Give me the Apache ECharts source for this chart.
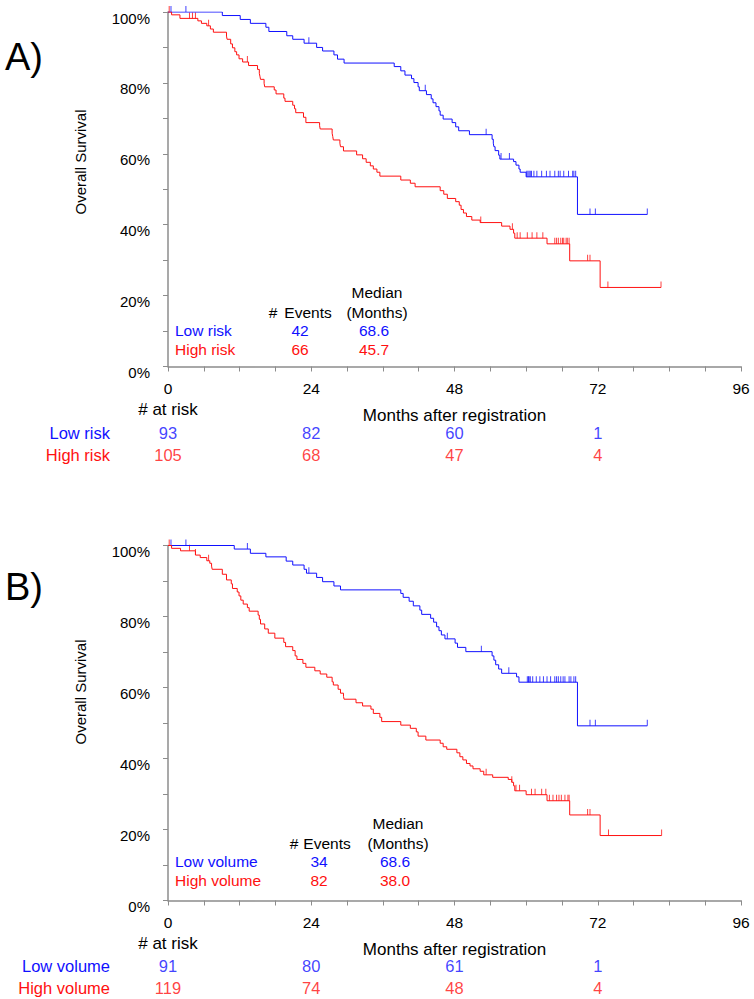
<!DOCTYPE html>
<html><head><meta charset="utf-8">
<script src="https://cdn.jsdelivr.net/npm/echarts@6/dist/echarts.min.js"></script>
<style>html,body{margin:0;padding:0;background:#fff}#c{width:754px;height:999px}</style>
</head><body><div id="c"></div>
<script>
// ---------- DATA ----------
const riskTimes = [0, 24, 48, 72];

// Panel A
const aGroups = ['Low risk', 'High risk'];
const aEvents = [42, 66];
const aMedians = ['68.6', '45.7'];
const aRiskLow = [93, 82, 60, 1];
const aRiskHigh = [105, 68, 47, 4];
const aLowT = [9.1,12.1,13.8,16.4,16.9,19.9,20.9,22.8,24.9,25.9,27.8,28.4,29.5,37.9,39.0,39.7,40.8,41.2,41.9,42.1,43.3,44.1,44.4,44.9,45.4,45.6,46.1,47.6,48.2,48.7,50.5,54.3,54.5,54.6,54.8,55.4,55.6,57.9,58.3,58.8,59.0,60.0,68.6];
const aLowS = [99.0,97.9,96.8,95.7,94.5,93.3,92.3,91.2,90.0,89.0,87.9,86.7,85.6,84.6,83.4,82.2,81.2,80.1,78.9,77.8,76.7,75.5,74.4,73.3,72.1,70.9,69.8,68.8,67.6,66.5,65.4,64.1,63.0,62.0,60.9,59.6,58.5,57.8,56.8,55.7,54.8,53.5,42.9];
const aLowEnd = 80.3;
const aLowCens = [0.5,3.0,23.6,43.1,53.3,55.8,57.2,60.1,60.3,60.5,60.7,60.9,61.3,61.8,62.6,63.4,64.0,64.8,65.4,65.7,66.3,67.1,67.8,68.0,68.3,70.7,71.6,80.3];
const aHighT = [0.6,2.0,5.0,5.6,6.5,7.1,7.6,9.8,9.9,10.5,10.8,11.2,11.5,11.9,12.5,13.5,15.0,15.3,15.4,15.5,16.1,16.2,17.8,18.1,19.4,19.6,20.9,21.2,21.4,22.7,23.1,25.4,25.5,27.5,27.6,27.7,28.8,28.9,29.4,31.6,32.6,33.2,33.9,34.4,35.0,35.5,39.0,40.6,41.4,45.6,46.2,46.8,48.2,48.8,49.1,49.5,50.0,50.9,52.3,55.9,57.3,57.9,58.1,63.5,67.3,72.4];
const aHighS = [99.2,98.2,97.5,96.8,96.1,95.2,94.3,93.2,92.3,91.0,89.9,88.8,87.9,86.8,85.9,84.9,83.8,82.7,81.9,81.0,79.9,78.9,78.0,76.9,75.7,74.8,73.7,72.7,71.6,70.3,68.8,67.9,67.0,65.8,64.9,63.9,63.0,62.0,60.8,59.7,58.6,57.6,56.6,55.7,54.8,53.7,52.6,51.7,50.7,49.6,48.6,47.4,46.5,45.5,44.3,43.3,42.3,41.3,40.6,39.6,38.7,37.6,36.2,34.6,29.8,22.3];
const aHighEnd = 82.6;
const aHighCens = [0.2,3.6,4.1,4.6,6.8,13.3,52.4,57.7,58.5,59.0,60.2,61.0,61.8,62.8,64.8,65.1,65.4,65.8,66.1,66.3,66.7,66.9,67.2,70.3,70.7,73.7,82.6];

// Panel B
const bGroups = ['Low volume', 'High volume'];
const bEvents = [34, 82];
const bMedians = ['68.6', '38.0'];
const bRiskLow = [91, 80, 61, 1];
const bRiskHigh = [119, 74, 48, 4];
const bLowT = [11.1,13.8,16.4,19.8,20.9,22.8,23.2,24.9,25.9,27.8,28.9,39.0,39.4,40.4,41.1,42.2,42.5,44.0,44.5,45.0,45.4,45.8,46.4,48.1,48.5,49.9,54.3,54.6,54.9,55.4,55.9,58.4,58.8,68.6];
const bLowS = [99.0,97.8,96.8,95.6,94.5,93.3,92.2,91.0,89.8,88.6,87.5,86.5,85.4,84.3,83.0,81.8,80.6,79.5,78.4,77.1,76.0,74.8,73.7,72.5,71.3,70.1,68.9,67.7,66.4,65.2,64.0,63.0,61.5,49.2];
const bLowEnd = 80.3;
const bLowCens = [0.5,3.0,13.3,23.6,46.8,52.5,57.1,60.2,60.4,60.5,60.7,61.1,61.7,62.3,62.9,63.5,64.1,64.8,65.1,65.4,65.8,66.2,66.5,67.2,67.5,68.0,68.3,70.7,71.6,80.3];
const bHighT = [0.6,2.1,4.6,5.4,6.5,7.0,7.3,7.4,9.1,9.8,10.6,10.8,11.6,11.9,12.2,12.6,13.3,13.6,15.1,15.3,15.5,16.2,16.8,17.9,19.4,19.7,20.9,21.3,21.6,22.6,23.1,24.6,25.5,26.6,27.5,27.7,28.5,28.9,29.4,29.5,31.5,32.6,34.0,34.4,35.5,35.8,39.0,40.6,41.6,41.9,43.2,45.6,46.1,46.7,48.4,48.9,49.4,50.0,50.6,51.1,52.3,52.9,54.4,57.0,57.6,57.9,58.1,60.0,63.5,67.3,72.4];
const bHighS = [99.2,98.5,97.3,96.6,95.7,95.0,94.2,93.3,91.9,90.3,89.2,87.9,86.9,85.8,84.6,83.5,82.5,81.5,80.4,79.2,77.9,76.5,75.3,73.9,72.7,71.5,70.4,68.9,67.9,66.8,65.7,64.7,63.8,62.9,61.6,60.7,59.5,58.4,57.5,56.7,55.7,54.8,53.9,52.7,51.6,50.4,49.4,48.5,47.5,46.3,45.2,44.3,43.3,42.6,41.6,40.5,39.6,38.6,37.9,37.1,36.4,35.4,34.7,34.1,33.3,32.3,30.9,29.8,28.1,24.1,18.3];
const bHighEnd = 82.7;
const bHighCens = [0.2,3.6,4.6,6.8,53.3,57.6,58.3,58.9,60.9,61.5,62.6,63.3,63.9,64.5,65.1,65.5,65.9,66.5,67.0,67.2,70.3,70.7,73.8,82.7];

// ---------- BUILD ----------
const BLUE = '#1010ff', RED = '#ff1010';
const FONT = '"Liberation Sans", Arial, Helvetica, sans-serif';

function kmData(T, S, end) {
  const d = [[0, 100]];
  T.forEach((t, i) => d.push([t, S[i]]));
  d.push([end, S[S.length - 1]]);
  return d;
}
function survAt(T, S, t) {
  let s = 100;
  for (let i = 0; i < T.length; i++) { if (T[i] <= t) s = S[i]; }
  return s;
}
function censData(T, S, C) { return C.map(t => [t, survAt(T, S, t)]); }

const axisGray = '#8c8c8c';
function mainX(gi) {
  return {
    gridIndex: gi, type: 'value', min: 0, max: 96, interval: 24,
    axisLine: { show: true, lineStyle: { color: axisGray, width: 1.5 } },
    axisTick: { show: true, length: 5, lineStyle: { color: axisGray } },
    minorTick: { show: true, splitNumber: 4, length: 5, lineStyle: { color: axisGray } },
    splitLine: { show: false },
    axisLabel: { margin: 14, fontSize: 15.5, color: '#000', fontFamily: FONT },
    name: 'Months after registration', nameLocation: 'middle', nameGap: 40,
    nameTextStyle: { fontSize: 17, color: '#000', fontFamily: FONT }
  };
}
function mainY(gi) {
  return {
    gridIndex: gi, type: 'value', min: 0, max: 100, interval: 20,
    axisLine: { show: true, lineStyle: { color: axisGray, width: 1.5 } },
    axisTick: { show: true, length: 5, lineStyle: { color: axisGray } },
    minorTick: { show: true, splitNumber: 2, length: 5, lineStyle: { color: axisGray } },
    splitLine: { show: false },
    axisLabel: { margin: 18, fontSize: 15, color: '#000', fontFamily: FONT, formatter: '{value}%', verticalAlign: 'top', lineHeight: 12 }
  };
}
function riskX(gi) {
  return { gridIndex: gi, type: 'value', min: 0, max: 96, show: false };
}
function riskY(gi, groups) {
  return {
    gridIndex: gi, type: 'category', data: groups, inverse: true,
    axisLine: { show: false }, axisTick: { show: false }, splitLine: { show: false },
    axisLabel: { interval: 0, hideOverlap: false, margin: 58, fontSize: 16.5, fontFamily: FONT, color: (v, i) => (v === groups[0] ? BLUE : RED) }
  };
}
function kmSeries(xi, T, S, end, C, color) {
  return [
    { type: 'line', xAxisIndex: xi, yAxisIndex: xi, step: 'end', data: kmData(T, S, end),
      showSymbol: false, symbol: 'none', lineStyle: { color: color, width: 1 }, itemStyle: { color: color }, silent: true, animation: false },
    { type: 'scatter', xAxisIndex: xi, yAxisIndex: xi, data: censData(T, S, C), symbol: 'rect',
      symbolSize: [1, 6], symbolOffset: [0, -3], itemStyle: { color: color, opacity: 0.8 }, silent: true, animation: false }
  ];
}
function riskSeries(xi, group, vals, color) {
  return { type: 'scatter', xAxisIndex: xi, yAxisIndex: xi, symbolSize: 1,
    data: riskTimes.map((t, i) => [t, group, vals[i]]),
    itemStyle: { color: 'rgba(0,0,0,0)' },
    label: { show: true, position: 'inside', formatter: p => String(p.value[2]), color: color, fontSize: 16.5, fontFamily: FONT },
    silent: true, animation: false };
}

function txt(x, y, s, fill, align, extra, size) {
  return Object.assign({ type: 'text', x: x, y: y, silent: true,
    style: { text: s, fill: fill || '#000', font: (size || 15) + 'px ' + FONT, align: align || 'center', verticalAlign: 'middle' } }, extra || {});
}
function legendBlock(dy, groups, events, medians, colX, medX, hashX) {
  const g = [];
  g.push(txt(medX, 292 + dy, 'Median', '#000', 'center', null, 15.5));
  g.push(txt(medX, 312 + dy, '(Months)', '#000', 'center', null, 15.5));
  g.push(txt(hashX, 312 + dy, '#', '#000', 'center', null, 15.5));
  g.push(txt(colX + 8, 312 + dy, 'Events', '#000', 'center', null, 15.5));
  const cols = [BLUE, RED];
  groups.forEach((name, i) => {
    const y = 330 + dy + i * 19.5;
    g.push(txt(175, y, name, cols[i], 'left', null, 15.5));
    g.push(txt(colX, y, String(events[i]), cols[i], 'center', null, 15.5));
    g.push(txt(medX - 3, y, medians[i], cols[i], 'center', null, 15.5));
  });
  return g;
}

const graphics = [
  txt(5, 57, 'A)', '#000', 'left', null, 38),
  txt(5, 587, 'B)', '#000', 'left', null, 38),
  txt(80, 162, 'Overall Survival', '#000', 'center', { rotation: Math.PI / 2 }, 15),
  txt(80, 692, 'Overall Survival', '#000', 'center', { rotation: Math.PI / 2 }, 15),
  txt(168, 409, '# at risk', '#000', 'center', null, 17),
  txt(168, 943, '# at risk', '#000', 'center', null, 17)
].concat(legendBlock(0, aGroups, aEvents, aMedians, 300, 377, 273))
 .concat(legendBlock(531, bGroups, bEvents, bMedians, 319, 398, 294));

const option = {
  backgroundColor: '#fff',
  animation: false,
  grid: [
    { left: 168, top: 12, width: 573, height: 354.5 },
    { left: 168, top: 422, width: 573, height: 44 },
    { left: 168, top: 545.5, width: 573, height: 355 },
    { left: 168, top: 955, width: 573, height: 44 }
  ],
  xAxis: [mainX(0), riskX(1), mainX(2), riskX(3)],
  yAxis: [mainY(0), riskY(1, aGroups), mainY(2), riskY(3, bGroups)],
  series: [].concat(
    kmSeries(0, aLowT, aLowS, aLowEnd, aLowCens, BLUE),
    kmSeries(0, aHighT, aHighS, aHighEnd, aHighCens, RED),
    kmSeries(2, bLowT, bLowS, bLowEnd, bLowCens, BLUE),
    kmSeries(2, bHighT, bHighS, bHighEnd, bHighCens, RED),
    [riskSeries(1, aGroups[0], aRiskLow, BLUE), riskSeries(1, aGroups[1], aRiskHigh, RED),
     riskSeries(3, bGroups[0], bRiskLow, BLUE), riskSeries(3, bGroups[1], bRiskHigh, RED)]
  ),
  graphic: graphics
};

const chart = echarts.init(document.getElementById('c'), null, { renderer: 'svg' });
chart.setOption(option);
</script>
</body></html>
